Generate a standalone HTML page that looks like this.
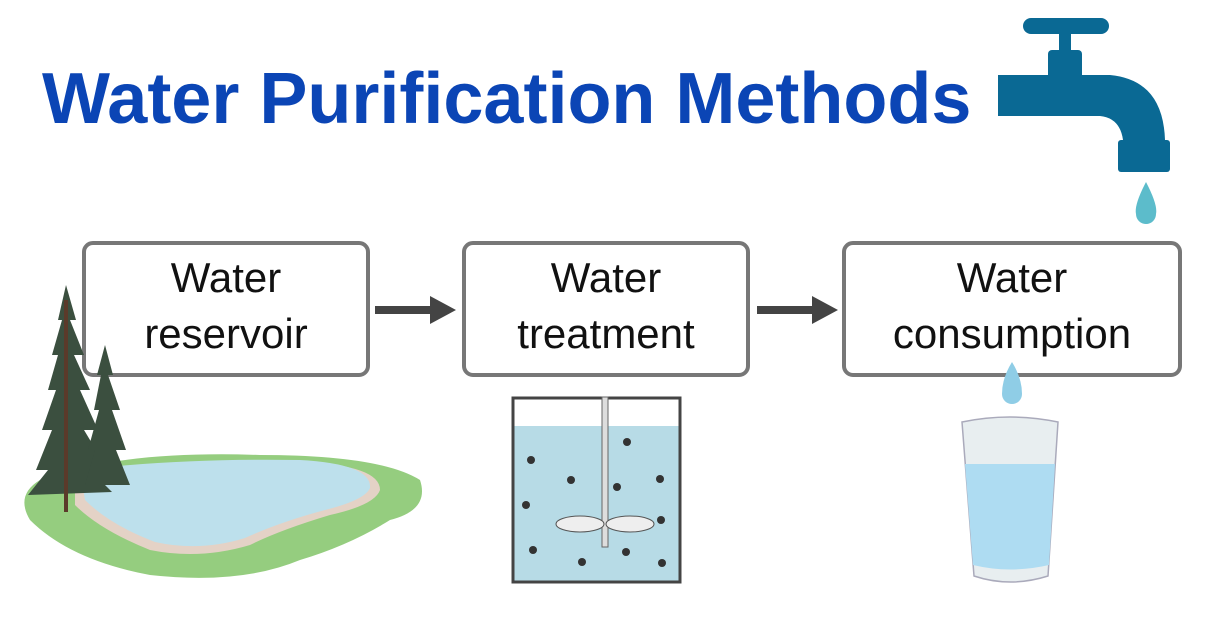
<!DOCTYPE html>
<html><head><style>
body{margin:0;width:1205px;height:631px;background:#fff;overflow:hidden;position:relative;font-family:"Liberation Sans",sans-serif}
.t{position:absolute;left:42px;top:58px;font-size:72px;font-weight:bold;color:#0b45b5;white-space:nowrap;letter-spacing:0px}
.b{position:absolute;border:4px solid #777;border-radius:11px;background:#fff;box-sizing:border-box;text-align:center;font-size:42px;line-height:56px;color:#111;padding-top:5px}
</style></head><body>
<div class="t">Water Purification Methods</div>
<svg width="1205" height="631" style="position:absolute;left:0;top:0">
<g fill="#0a6994">
<rect x="1023" y="18" width="86" height="16" rx="8"/>
<rect x="1059" y="24" width="12" height="30"/>
<rect x="1048" y="50" width="34" height="30" rx="4"/>
<path d="M998 75 H1110 Q1163 80 1165 140 V145 H1123 V140 Q1120 118 1100 116 H998 Z"/>
<rect x="1118" y="140" width="52" height="32" rx="3"/>
</g>
<path d="M1146 182 Q1134 205 1136 214 A10 10 0 0 0 1156 214 Q1158 205 1146 182Z" fill="#5cbccb"/>
<g fill="#444"><rect x="375" y="306" width="60" height="8"/><path d="M430 296 L456 310 L430 324Z"/>
<rect x="757" y="306" width="60" height="8"/><path d="M812 296 L838 310 L812 324Z"/></g>
<path d="M40 480 Q120 450 260 455 Q380 455 420 480 Q430 510 390 520 Q350 545 300 560 Q240 585 150 575 Q70 560 30 520 Q15 495 40 480Z" fill="#95cd7f"/>
<path d="M75 472 Q180 458 300 462 Q380 465 380 490 Q375 505 330 515 Q280 530 250 545 Q200 560 150 550 Q100 530 75 505Z" fill="#e4d2c6"/>
<path d="M80 470 Q180 458 300 460 Q372 464 370 488 Q365 500 325 510 Q280 522 245 538 Q200 552 155 542 Q110 525 85 500Z" fill="#bde0ec"/>
<rect x="513" y="426" width="167" height="156" fill="#b7dbe6"/>
<rect x="513" y="398" width="167" height="184" fill="none" stroke="#444" stroke-width="3"/>
<rect x="602" y="397" width="6" height="150" fill="#ddd" stroke="#666" stroke-width="1"/>
<ellipse cx="580" cy="524" rx="24" ry="8" fill="#eee" stroke="#555"/>
<ellipse cx="630" cy="524" rx="24" ry="8" fill="#eee" stroke="#555"/>
<g fill="#333"><circle cx="531" cy="460" r="4"/><circle cx="571" cy="480" r="4"/><circle cx="526" cy="505" r="4"/><circle cx="533" cy="550" r="4"/><circle cx="582" cy="562" r="4"/><circle cx="627" cy="442" r="4"/><circle cx="617" cy="487" r="4"/><circle cx="660" cy="479" r="4"/><circle cx="661" cy="520" r="4"/><circle cx="626" cy="552" r="4"/><circle cx="662" cy="563" r="4"/></g>
<path d="M962 422 Q1010 412 1058 422 L1048 576 Q1010 588 974 576Z" fill="#e8eef0" stroke="#aab" stroke-width="1.5"/>
<path d="M965 464 L1055 464 L1049 565 Q1010 574 973 565Z" fill="#aedcf2"/>
</svg>
<div class="b" style="left:82px;top:241px;width:288px;height:136px">Water<br>reservoir</div>
<div class="b" style="left:462px;top:241px;width:288px;height:136px">Water<br>treatment</div>
<div class="b" style="left:842px;top:241px;width:340px;height:136px">Water<br>consumption</div>
<svg width="1205" height="631" style="position:absolute;left:0;top:0">
<path d="M1012 362 Q1002 378 1002 394 A10 10 0 0 0 1022 394 Q1022 378 1012 362Z" fill="#8fcde6"/>
<g fill="#3b4f3f">
<path d="M66 285 L76 320 L70 320 L84 355 L74 355 L90 390 L80 390 L98 430 L84 430 L108 470 L90 470 L112 492 L28 495 L48 470 L36 470 L52 430 L42 430 L56 390 L48 390 L58 355 L52 355 L62 320 L58 320Z"/>
<path d="M105 345 L113 375 L108 375 L120 410 L112 410 L126 450 L116 450 L130 485 L85 485 L95 450 L88 450 L99 410 L94 410 L101 375 L97 375Z"/>
</g>
<rect x="64" y="300" width="4" height="212" fill="#5b3a2a"/>
</svg>
</body></html>
